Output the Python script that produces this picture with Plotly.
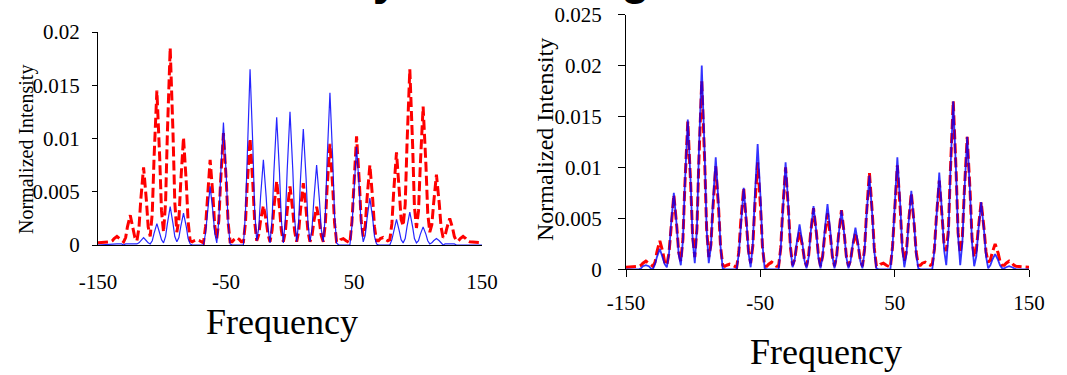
import plotly.graph_objects as go

# Frequency sample positions (valley, foot, shoulder, apex, shoulder, foot per peak)
freq = [-150.0,
        -140.4, -138.8, -137.4, -135.2, -133.0, -131.6,
        -130.0, -128.4, -127.0, -124.8, -122.6, -121.2,
        -119.6, -118.0, -116.6, -114.4, -112.2, -110.8,
        -109.2, -107.6, -106.2, -104.0, -101.8, -100.4,
        -98.8, -97.2, -95.8, -93.6, -91.4, -90.0,
        -88.4, -86.8, -85.4, -83.2, -81.0, -79.6,
        -78.0, -76.4, -75.0, -72.8, -70.6, -69.2,
        -67.6, -66.0, -64.6, -62.4, -60.2, -58.8,
        -57.2, -55.6, -54.2, -52.0, -49.8, -48.4,
        -46.8, -45.2, -43.8, -41.6, -39.4, -38.0,
        -36.4, -34.8, -33.4, -31.2, -29.0, -27.6,
        -26.0, -24.4, -23.0, -20.8, -18.6, -17.2,
        -15.6, -14.0, -12.6, -10.4, -8.2, -6.8,
        -5.2, -3.6, -2.2, 0.0, 2.2, 3.6,
        5.2, 6.8, 8.2, 10.4, 12.6, 14.0,
        15.6, 17.2, 18.6, 20.8, 23.0, 24.4,
        26.0, 27.6, 29.0, 31.2, 33.4, 34.8,
        36.4, 38.0, 39.4, 41.6, 43.8, 45.2,
        46.8, 48.4, 49.8, 52.0, 54.2, 55.6,
        57.2, 58.8, 60.2, 62.4, 64.6, 66.0,
        67.6, 69.2, 70.6, 72.8, 75.0, 76.4,
        78.0, 79.6, 81.0, 83.2, 85.4, 86.8,
        88.4, 90.0, 91.4, 93.6, 95.8, 97.2,
        98.8, 100.4, 101.8, 104.0, 106.2, 107.6,
        109.2, 110.8, 112.2, 114.4, 116.6, 118.0,
        119.6, 121.2, 122.6, 124.8, 127.0, 128.4,
        130.0, 131.6, 133.0, 135.2, 137.4, 138.8,
        140.4, 150.0]

# Reference spectrum (red dashed), same in both panels
red_ref = [0.0002,
           0.0003, 0.0004, 0.0006, 0.0008, 0.0006, 0.0004,
           0.0003, 0.0007, 0.0017, 0.0028, 0.0017, 0.0007,
           0.0004, 0.0016, 0.0042, 0.0073, 0.0042, 0.0017,
           0.0008, 0.0030, 0.0082, 0.0145, 0.0082, 0.0032,
           0.0012, 0.0040, 0.0105, 0.0185, 0.0105, 0.0040,
           0.0012, 0.0024, 0.0058, 0.0101, 0.0058, 0.0022,
           0.0004, 0.0003, 0.0004, 0.0005, 0.0004, 0.0003,
           0.0002, 0.0017, 0.0046, 0.0080, 0.0046, 0.0018,
           0.0006, 0.0023, 0.0060, 0.0105, 0.0060, 0.0022,
           0.0003, 0.0003, 0.0005, 0.0007, 0.0005, 0.0003,
           0.0003, 0.0021, 0.0057, 0.0100, 0.0057, 0.0022,
           0.0004, 0.0010, 0.0023, 0.0037, 0.0023, 0.0010,
           0.0003, 0.0014, 0.0035, 0.0060, 0.0035, 0.0014,
           0.0003, 0.0013, 0.0032, 0.0055, 0.0032, 0.0013,
           0.0003, 0.0013, 0.0033, 0.0058, 0.0033, 0.0013,
           0.0003, 0.0009, 0.0022, 0.0036, 0.0022, 0.0009,
           0.0003, 0.0020, 0.0054, 0.0095, 0.0054, 0.0021,
           0.0003, 0.0003, 0.0005, 0.0006, 0.0004, 0.0003,
           0.0002, 0.0022, 0.0058, 0.0102, 0.0058, 0.0023,
           0.0008, 0.0018, 0.0044, 0.0075, 0.0043, 0.0017,
           0.0004, 0.0004, 0.0006, 0.0007, 0.0005, 0.0004,
           0.0005, 0.0020, 0.0050, 0.0087, 0.0050, 0.0024,
           0.0018, 0.0038, 0.0094, 0.0165, 0.0094, 0.0036,
           0.0016, 0.0032, 0.0075, 0.0130, 0.0075, 0.0030,
           0.0012, 0.0019, 0.0039, 0.0066, 0.0039, 0.0017,
           0.0007, 0.0009, 0.0016, 0.0025, 0.0016, 0.0008,
           0.0004, 0.0004, 0.0006, 0.0008, 0.0006, 0.0004,
           0.0003, 0.0002]

# Left panel: blue spectrum
blue_left = [0.0,
             0.0001, 0.0001, 0.0001, 0.0001, 0.0001, 0.0001,
             0.0, 0.0001, 0.0001, 0.0001, 0.0001, 0.0001,
             0.0001, 0.0002, 0.0004, 0.0007, 0.0004, 0.0002,
             0.0001, 0.0004, 0.0011, 0.0020, 0.0011, 0.0005,
             0.0002, 0.0008, 0.0020, 0.0036, 0.0020, 0.0008,
             0.0003, 0.0007, 0.0017, 0.0030, 0.0017, 0.0006,
             0.0001, 0.0, 0.0, 0.0, 0.0, 0.0,
             0.0, 0.0011, 0.0031, 0.0055, 0.0031, 0.0011,
             0.0002, 0.0023, 0.0065, 0.0115, 0.0065, 0.0022,
             0.0001, 0.0, 0.0, 0.0, 0.0, 0.0,
             0.0, 0.0030, 0.0092, 0.0165, 0.0092, 0.0032,
             0.0004, 0.0016, 0.0045, 0.0080, 0.0045, 0.0016,
             0.0002, 0.0024, 0.0068, 0.0120, 0.0068, 0.0024,
             0.0002, 0.0025, 0.0070, 0.0125, 0.0070, 0.0025,
             0.0003, 0.0022, 0.0062, 0.0109, 0.0062, 0.0021,
             0.0003, 0.0015, 0.0042, 0.0075, 0.0042, 0.0015,
             0.0003, 0.0028, 0.0080, 0.0143, 0.0080, 0.0028,
             0.0002, 0.0, 0.0, 0.0, 0.0, 0.0,
             0.0, 0.0018, 0.0052, 0.0092, 0.0052, 0.0018,
             0.0003, 0.0009, 0.0025, 0.0044, 0.0025, 0.0008,
             0.0001, 0.0, 0.0, 0.0, 0.0, 0.0,
             0.0, 0.0005, 0.0013, 0.0024, 0.0013, 0.0005,
             0.0002, 0.0006, 0.0017, 0.0031, 0.0017, 0.0006,
             0.0002, 0.0004, 0.0010, 0.0017, 0.0010, 0.0004,
             0.0001, 0.0002, 0.0004, 0.0006, 0.0004, 0.0002,
             0.0, 0.0001, 0.0001, 0.0001, 0.0001, 0.0001,
             0.0, 0.0, 0.0, 0.0, 0.0, 0.0,
             0.0, 0.0]

# Right panel: blue spectrum
blue_right = [0.0,
              0.0, 0.0001, 0.0003, 0.0004, 0.0003, 0.0001,
              0.0, 0.0005, 0.0012, 0.0020, 0.0012, 0.0005,
              0.0002, 0.0015, 0.0042, 0.0075, 0.0042, 0.0015,
              0.0004, 0.0029, 0.0083, 0.0147, 0.0083, 0.0029,
              0.0006, 0.0040, 0.0112, 0.0200, 0.0112, 0.0040,
              0.0006, 0.0022, 0.0062, 0.0110, 0.0062, 0.0022,
              0.0001, 0.0, 0.0, 0.0, 0.0, 0.0,
              0.0, 0.0016, 0.0045, 0.0080, 0.0045, 0.0016,
              0.0002, 0.0025, 0.0069, 0.0123, 0.0069, 0.0024,
              0.0001, 0.0, 0.0, 0.0, 0.0, 0.0,
              0.0, 0.0021, 0.0059, 0.0105, 0.0059, 0.0021,
              0.0002, 0.0009, 0.0025, 0.0044, 0.0025, 0.0009,
              0.0001, 0.0012, 0.0035, 0.0062, 0.0035, 0.0012,
              0.0001, 0.0013, 0.0036, 0.0064, 0.0036, 0.0013,
              0.0001, 0.0012, 0.0033, 0.0058, 0.0033, 0.0012,
              0.0001, 0.0008, 0.0023, 0.0041, 0.0023, 0.0008,
              0.0001, 0.0018, 0.0052, 0.0092, 0.0052, 0.0018,
              0.0001, 0.0, 0.0, 0.0, 0.0, 0.0,
              0.0, 0.0022, 0.0062, 0.0110, 0.0062, 0.0022,
              0.0002, 0.0015, 0.0043, 0.0077, 0.0043, 0.0015,
              0.0001, 0.0, 0.0, 0.0, 0.0, 0.0,
              0.0, 0.0019, 0.0053, 0.0095, 0.0053, 0.0019,
              0.0004, 0.0033, 0.0093, 0.0165, 0.0093, 0.0033,
              0.0004, 0.0026, 0.0073, 0.0130, 0.0073, 0.0026,
              0.0003, 0.0013, 0.0037, 0.0066, 0.0037, 0.0013,
              0.0001, 0.0004, 0.0009, 0.0015, 0.0009, 0.0004,
              0.0001, 0.0001, 0.0002, 0.0003, 0.0002, 0.0001,
              0.0, 0.0]

x_ticks = [-150, -50, 50, 150]
x_tick_labels = ["-150", "-50", "50", "150"]
y_title = "Normalized Intensity"
x_title = "Frequency"
main_title = "dynamic range"

W, H = 1067, 375
SERIF = "Liberation Serif, Times New Roman, serif"

fig = go.Figure()

fig.add_trace(go.Scatter(x=freq, y=red_ref, mode="lines", xaxis="x", yaxis="y",
                         line=dict(color="#FF0000", width=3, dash="10px,4px"),
                         showlegend=False))
fig.add_trace(go.Scatter(x=freq, y=blue_left, mode="lines", xaxis="x", yaxis="y",
                         line=dict(color="#0000FF", width=1.2), opacity=0.85,
                         showlegend=False))
fig.add_trace(go.Scatter(x=freq, y=red_ref, mode="lines", xaxis="x2", yaxis="y2",
                         line=dict(color="#FF0000", width=3, dash="10px,4px"),
                         showlegend=False))
fig.add_trace(go.Scatter(x=freq, y=blue_right, mode="lines", xaxis="x2", yaxis="y2",
                         line=dict(color="#0000FF", width=1.8), opacity=0.8,
                         showlegend=False))

tickfont = dict(family=SERIF, size=21, color="black")

common_x = dict(range=[-150, 150], tickvals=x_ticks, ticktext=x_tick_labels,
                showgrid=False, zeroline=False, showline=True, linecolor="black",
                linewidth=1, tickfont=tickfont, automargin=False)
common_y = dict(showgrid=False, zeroline=False, showline=True, linecolor="black",
                linewidth=1, tickfont=tickfont, ticks="outside", tickcolor="black",
                tickwidth=1, automargin=False)

fig.update_layout(
    width=W, height=H, autosize=False,
    margin=dict(l=0, r=0, t=0, b=0, pad=0, autoexpand=False),
    paper_bgcolor="white", plot_bgcolor="white",
    xaxis=dict(domain=[98 / W, 482 / W], anchor="y", ticks="",
               ticklabelstandoff=18, **common_x),
    yaxis=dict(domain=[1 - 245 / H, 1 - 32 / H], anchor="x", range=[0, 0.02],
               dtick=0.005, ticklen=5, ticklabelstandoff=8, **common_y),
    xaxis2=dict(domain=[626 / W, 1029 / W], anchor="y2", ticks="outside",
                ticklen=7, tickcolor="black", tickwidth=1,
                ticklabelstandoff=7, **common_x),
    yaxis2=dict(domain=[1 - 269.3 / H, 1 - 14.7 / H], anchor="x2", range=[0, 0.025],
                dtick=0.005, ticklen=7, ticklabelstandoff=12, **common_y),
    annotations=[
        dict(text=y_title, xref="paper", yref="paper", x=26 / W, y=1 - 150 / H,
             textangle=-90, showarrow=False, xanchor="center", yanchor="middle",
             font=dict(family=SERIF, size=20, color="black")),
        dict(text=y_title, xref="paper", yref="paper", x=545 / W, y=1 - 140 / H,
             textangle=-90, showarrow=False, xanchor="center", yanchor="middle",
             font=dict(family=SERIF, size=24, color="black")),
        dict(text=x_title, xref="paper", yref="paper", x=282 / W, y=1 - 322 / H,
             showarrow=False, xanchor="center", yanchor="middle",
             font=dict(family=SERIF, size=36, color="black")),
        dict(text=x_title, xref="paper", yref="paper", x=826 / W, y=1 - 352 / H,
             showarrow=False, xanchor="center", yanchor="middle",
             font=dict(family=SERIF, size=36, color="black")),
        dict(text="<b>" + main_title + "</b>", xref="paper", yref="paper",
             x=510 / W, y=1 - 6 / H, showarrow=False, xanchor="center",
             yanchor="bottom",
             font=dict(family="Liberation Sans, Arial, sans-serif", size=47,
                       color="black")),
    ],
)

fig.write_html("out.html")
